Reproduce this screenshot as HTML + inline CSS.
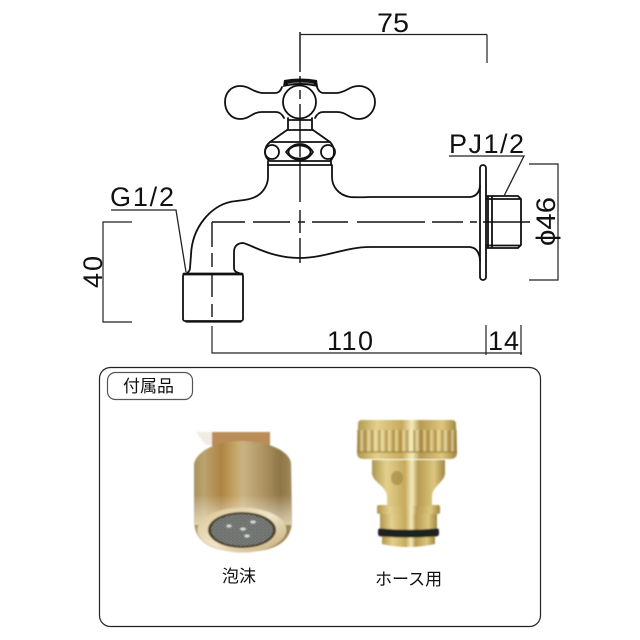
<!DOCTYPE html>
<html><head><meta charset="utf-8">
<style>html,body{margin:0;padding:0;background:#fff}svg{display:block}</style>
</head><body>
<svg width="640" height="640" viewBox="0 0 640 640" xmlns="http://www.w3.org/2000/svg">
<defs>
<linearGradient id="brass" x1="0" x2="1" y1="0" y2="0">
<stop offset="0" stop-color="#a8925f"/><stop offset=".1" stop-color="#bba36f"/><stop offset=".28" stop-color="#ad8443"/><stop offset=".42" stop-color="#c6a566"/><stop offset=".5" stop-color="#c9b384"/><stop offset=".7" stop-color="#ae9563"/><stop offset=".88" stop-color="#8f7647"/><stop offset="1" stop-color="#a08a5a"/>
</linearGradient>
<linearGradient id="gold" x1="0" x2="1" y1="0" y2="0">
<stop offset="0" stop-color="#b0964f"/><stop offset=".2" stop-color="#e3d08c"/><stop offset=".45" stop-color="#c6a95c"/><stop offset=".55" stop-color="#f4ebbd"/><stop offset=".63" stop-color="#b79a50"/><stop offset=".85" stop-color="#dcc67e"/><stop offset="1" stop-color="#a08542"/>
</linearGradient>
<linearGradient id="rim" x1="0" x2="1" y1="0" y2="1">
<stop offset="0" stop-color="#d8c391"/><stop offset=".5" stop-color="#f0e5c8"/><stop offset="1" stop-color="#c2a872"/>
</linearGradient>
<linearGradient id="hl" x1="0" x2="0" y1="0" y2="1">
<stop offset="0" stop-color="#fff" stop-opacity="0"/><stop offset="1" stop-color="#f6ecd0" stop-opacity=".7"/>
</linearGradient>
<clipPath id="bodyclip"><path d="M194 464C196 452 215 441 241 441C266 441 289 450 291 463L292 520Q292 552 243 552Q194 552 194 520Z"/></clipPath>
<pattern id="mesh" width="4" height="3" patternUnits="userSpaceOnUse">
<rect width="4" height="3" fill="#8b8d8a"/><circle cx="1" cy="1" r=".9" fill="#3e423f"/><circle cx="3" cy="2.4" r=".9" fill="#3e423f"/>
</pattern>
<pattern id="knurl" width="7" height="10" patternUnits="userSpaceOnUse">
<rect x="0" width="2.5" height="10" fill="#8d6f2c" opacity=".4"/><rect x="3.5" width="2" height="10" fill="#f8efc4" opacity=".45"/>
</pattern>
<filter id="soft" x="-5%" y="-5%" width="110%" height="110%"><feGaussianBlur stdDeviation=".8"/></filter>
</defs>

<!-- faucet outline -->
<g fill="none" stroke="#111" stroke-width="1.8" stroke-linejoin="round" stroke-linecap="round">
<path d="M282 87Q280 93 275 93L262 93C252 92 250 86 240 86C231 86 225 93 225 102C225 111 231 119 240 119C250 119 252 112 262 112L276 112Q281 112 284 118"/>
<path d="M317 87Q319 93 324 93L337 93C347 92 349 86 359 86C368 86 375 93 375 102C375 111 368 119 359 119C349 119 347 112 337 112L323 112Q318 112 315 118"/>
<circle cx="299.5" cy="102" r="16.5"/>
<path d="M288 118V130M312 118V130M288 120H312M287 130H313"/>
<path d="M287 130L270 142H330L313 130"/>
<path d="M270 142Q265 146 265 152Q265 158 270 161H330Q334 158 334 152Q334 146 330 142"/>
<circle cx="272" cy="152" r="7"/><circle cx="328" cy="152" r="7"/>
<path d="M286 152Q292 144 300 144Q308 144 313 152Q308 160 300 160Q292 160 286 152Z"/>
<ellipse cx="299.5" cy="152" rx="11" ry="6.5"/>
<path d="M268 161V165H331V161"/>
<path d="M268 165V177C268 186 262 194 255 197C247 201 238 200 230 202C212 206 192 226 191 255L190 268Q190 271 187 273"/>
<path d="M332 165V177C332 186 338 195 350 197Q356 197.500 370 197L470 197Q479 196 480 186"/>
<path d="M239 273Q234 272 234 268V252C234 245 239 243 243 243C250 244 270 258 300 258C325 258 345 247 370 247L470 247Q479 248 480 260"/>
<rect x="183" y="274" width="60" height="47" rx="2"/>
<path d="M186 322H241" stroke-width="1.2"/>
<path d="M184 274H242" stroke-width="2.8"/>
<rect x="480" y="165" width="6" height="115" rx="3"/>
<path d="M486 196H518L521 199V245L518 248H486M492 196V248M488 196V248M486 199H520M486 245.500H520"/>
</g>
<path d="M283 87L284 80Q300 77 317 80L318 87Q300 83 283 87Z" fill="#111"/>
<path d="M288 84Q300 81 314 84" stroke="#777" fill="none" stroke-width="1"/>

<!-- center lines -->
<g fill="none" stroke="#111" stroke-width="1.4">
<path d="M300 32V72M300 76V84M300 90V99M300 104V142M300 146V157M300 160V202M300 210V233M300 238V263"/>
<path d="M212 222H245M253 222H290M298 222H305M312 222H348M357 222H425M432 222H463M470 222H477M483 222H530"/>
<path d="M212 222V247M212 253V267M212 273V297M212 304V317"/>
</g>

<!-- dimensions -->
<g fill="none" stroke="#222" stroke-width="1.2">
<path d="M300 34.500H487M300 34.500V63M487 34.500V63"/>
<path d="M111 210H176L186 272" stroke-width="1.3"/>
<path d="M132 222H103V322H132"/>
<path d="M449 156H524L504 196" stroke-width="1.3"/>
<path d="M529 164H558V280H529"/>
<path d="M212 326V353H522M486 325V355M521 325V355"/>
</g>
<g font-family="'Liberation Sans',sans-serif" fill="#111" font-size="27">
<text x="377" y="32" textLength="32" lengthAdjust="spacingAndGlyphs">75</text>
<text x="110" y="206" textLength="64" lengthAdjust="spacing">G1/2</text>
<text x="449" y="153" textLength="75" lengthAdjust="spacing">PJ1/2</text>
<text x="327" y="350" textLength="46" lengthAdjust="spacing">110</text>
<text x="488" y="350" textLength="31" lengthAdjust="spacing">14</text>
<text transform="translate(102,288) rotate(-90)" textLength="32" lengthAdjust="spacing">40</text>
<text transform="translate(555,246) rotate(-90)" textLength="49" lengthAdjust="spacingAndGlyphs">ϕ46</text>
</g>

<!-- panel -->
<rect x="99.500" y="367.500" width="441" height="259" rx="11" fill="#fff" stroke="#222" stroke-width="1.2"/>
<rect x="107.500" y="372.500" width="85" height="27" rx="8" fill="#fff" stroke="#555" stroke-width="1.2"/>
<text x="123" y="392" font-family="'Liberation Sans','Noto Sans CJK JP',sans-serif" font-size="17" fill="#111">付属品</text>

<!-- aerator -->
<g filter="url(#soft)">
<path d="M196 432H214L232 445H206Q200 438 196 432Z" fill="#f1ebe2"/>
<rect x="212" y="432" width="58" height="14" fill="#b98c58"/>
<path d="M194 464C196 452 215 441 241 441C266 441 289 450 291 463L292 520Q292 552 243 552Q194 552 194 520Z" fill="url(#brass)"/>
<rect x="190" y="495" width="106" height="30" fill="url(#hl)" clip-path="url(#bodyclip)"/>
<ellipse cx="242" cy="530" rx="44.500" ry="22.500" fill="url(#rim)"/>
<ellipse cx="242" cy="530" rx="34" ry="18" fill="#4a3c22"/>
<ellipse cx="242" cy="530" rx="31" ry="16" fill="url(#mesh)"/>
<g fill="#d5dcd8"><ellipse cx="229" cy="526" rx="2.800" ry="1.500"/><ellipse cx="253" cy="522" rx="2.800" ry="1.500"/><ellipse cx="243" cy="529" rx="2.800" ry="1.500"/><ellipse cx="247" cy="536" rx="2.800" ry="1.500"/></g>
</g>

<!-- connector -->
<g filter="url(#soft)">
<path d="M382 530V544Q408 550 435 544V530Z" fill="url(#gold)"/>
<rect x="380" y="513" width="57" height="18" fill="url(#gold)"/>
<path d="M378 531Q378 528 381 528.500Q408 531 436 528.500Q439 528 439 531V534Q439 536.500 435 536.500Q408 538.500 382 536.500Q378 536.500 378 534Z" fill="#1e2420"/>
<rect x="377" y="505" width="63" height="9" rx="2" fill="url(#gold)"/>
<path d="M372 460H445V473C445 482 432 486 432 497V506H387V497C387 486 372 482 372 473Z" fill="url(#gold)"/>
<ellipse cx="397" cy="478" rx="6" ry="7" fill="#a58a4a" opacity=".7"/>
<path d="M358 424Q358 420 362 420H452Q456 420 456 424L457 453Q457 459 450 459H364Q357 459 357 453Z" fill="url(#gold)"/>
<rect x="357" y="430" width="100" height="22" fill="url(#knurl)"/>
<rect x="357" y="451" width="100" height="2" fill="#8d6f2c" opacity=".45"/>
</g>

<g font-family="'Liberation Sans','Noto Sans CJK JP',sans-serif" font-size="17" fill="#111">
<text x="222" y="582">泡沫</text>
<text x="375" y="585">ホース用</text>
</g>
</svg>
</body></html>
